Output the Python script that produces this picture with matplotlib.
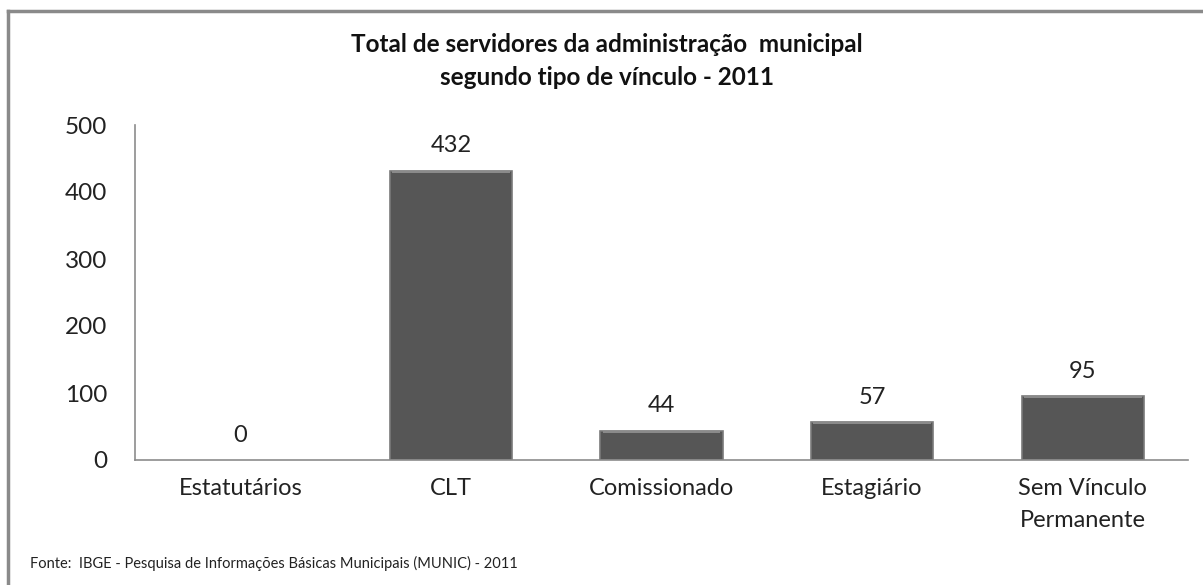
import matplotlib.pyplot as plt
from matplotlib.lines import Line2D

plt.rcParams['font.family'] = ['Lato', 'DejaVu Sans']

categorias = ['Estatutários', 'CLT', 'Comissionado', 'Estagiário', 'Sem Vínculo\nPermanente']
servidores = [0, 432, 44, 57, 95]
yticks = [0, 100, 200, 300, 400, 500]

fig = plt.figure(figsize=(12.03, 5.85), dpi=100)
ax = fig.add_axes([135 / 1203, 1 - 460 / 585, (1188 - 135) / 1203, (460 - 125) / 585])

x = range(len(categorias))
for i, v in enumerate(servidores):
    if v > 0:
        ax.bar(i, v, width=0.58, color='#565656', edgecolor='#7a7a7a', linewidth=1.2)
        # faixa clara no topo, imitando o bisel do Excel
        ax.bar(i, 3, bottom=v - 3, width=0.56, color='#8a8a8a', linewidth=0)
    ax.text(i, v + 21, str(v), ha='center', va='bottom', fontsize=17, color='#222222')

ax.set_xlim(-0.5, len(categorias) - 0.5)
ax.set_ylim(0, 500)
ax.set_yticks(yticks)
ax.set_xticks(list(x))
ax.set_xticklabels(categorias, fontsize=17, color='#222222', linespacing=1.65)
ax.tick_params(axis='y', labelsize=17.5, labelcolor='#222222', length=0, pad=20)
ax.tick_params(axis='x', length=0, pad=13)
for s in ['top', 'right']:
    ax.spines[s].set_visible(False)
for s in ['left', 'bottom']:
    ax.spines[s].set_color('#8c8c8c')
    ax.spines[s].set_linewidth(1.2)

fig.text(0.5 + 5 / 1203, 1 - 61 / 585, 'Total de servidores da administração  municipal\nsegundo tipo de vínculo - 2011',
         ha='center', va='center', fontsize=17.5, fontweight='bold', linespacing=1.5, color='#111111')
fig.text(30 / 1203, 1 - 563 / 585, 'Fonte:  IBGE - Pesquisa de Informações Básicas Municipais (MUNIC) - 2011',
         ha='left', va='center', fontsize=10.5, color='#222222')

# moldura do gráfico (só esquerda e topo visíveis)
fig.add_artist(Line2D([8 / 1203, 8 / 1203], [0, 1 - 11 / 585], transform=fig.transFigure, color='#8a8a8a', lw=2.5))
fig.add_artist(Line2D([8 / 1203, 1], [1 - 11 / 585, 1 - 11 / 585], transform=fig.transFigure, color='#8a8a8a', lw=2.5))

fig.savefig('out.png', dpi=100)
